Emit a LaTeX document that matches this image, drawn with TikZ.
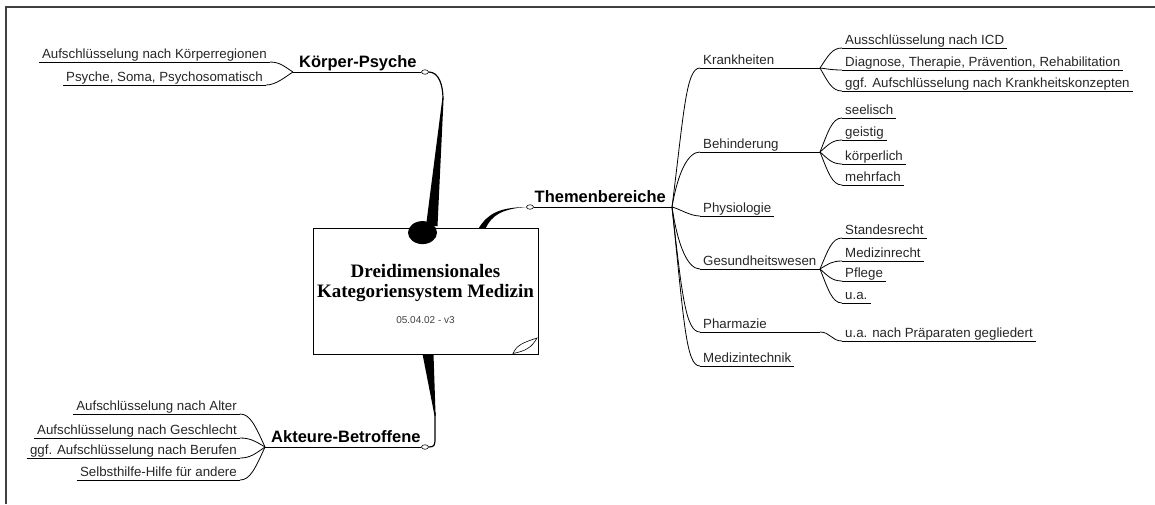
\documentclass[tikz,border=0pt]{standalone}
\usepackage{fontspec}
\setmainfont{Liberation Sans}
\newfontfamily\titlefont{Liberation Serif}
\usetikzlibrary{shapes.geometric}

\tikzset{
  branch/.style={line width=0.8pt},
  topic/.style={font=\fontsize{16.5}{18}\selectfont\bfseries, inner xsep=6pt, inner ysep=0pt, text depth=4pt},
  leaf/.style={font=\fontsize{13.3}{15}\selectfont, text=black!85, inner xsep=3pt, inner ysep=0pt, text depth=3.5pt,
    append after command={(\tikzlastnode.south west) edge[branch] (\tikzlastnode.south east)}},
  knob/.style={ellipse, draw, fill=white, inner sep=0pt, minimum width=7pt, minimum height=4.5pt, line width=0.6pt},
}

\begin{document}
\begin{tikzpicture}[x=1pt,y=-1pt]
  \useasboundingbox (0,0) rectangle (1155,504);
  \draw[line width=2.5pt, black!75] (6,504) -- (6,7) -- (1155,7);

  % centre
  \node[draw, fill=white, line width=0.8pt, minimum width=225pt, minimum height=126pt, inner sep=0pt] (ctr) at (425.5,291) {};
  \node[anchor=base, font=\titlefont\bfseries\fontsize{19}{21}\selectfont] (tit1) at (425.5,277) {Dreidimensionales};
  \node[anchor=base, font=\titlefont\bfseries\fontsize{19}{21}\selectfont] (tit2) at (425.5,297) {Kategoriensystem Medizin};
  \node[anchor=base, font=\fontsize{10}{12}\selectfont, text=black!75] (dat) at (425.5,323) {05.04.02 - v3};
  \draw[line width=0.6pt, fill=white] (513,353.5) .. controls (517,345) and (522,343) .. (537,338)
    .. controls (532,347) and (526,351) .. (513,353.5) -- cycle;

  % main topics
  \node[topic, anchor=south west] (kp) at (293,72) {Körper-Psyche};
  \node[knob] (kpk) at (425,72) {};
  \draw[branch] (kp.south west) -- (kpk.west);
  \node[topic, anchor=south east] (tb) at (672,207) {Themenbereiche};
  \node[knob] (tbk) at (530,207) {};
  \draw[branch] (tbk.east) -- (tb.south east);
  \node[topic, anchor=south west] (ab) at (265,447) {Akteure-Betroffene};
  \node[knob] (abk) at (425,447) {};
  \draw[branch] (ab.south west) -- (abk.west);

  % thick connectors to the centre
  \draw[line width=1.2pt] (kpk.east) .. controls +(10,0) and +(0,-14) .. (443,99);
  \fill (443.6,98) -- (437.5,226) -- (426,226) -- (442.4,98) -- cycle;
  \fill ([shift={(-3pt,-5pt)}]ctr.north) ellipse [x radius=14.5pt, y radius=11.5pt];
  \fill (478.5,228.5) .. controls (488,213) and (500,207.5) .. (tbk.west)
    .. controls (502,209) and (492,215) .. (485.5,228.5) -- cycle;
  \fill (422.5,354) -- (433.5,354) -- (435.6,416) -- (434.6,416) -- cycle;
  \draw[line width=1.2pt] (435,412) -- (435,437) .. controls +(0,8) and +(6,0) .. (abk.east);

  % Koerper-Psyche
  \node[leaf, anchor=south east] (kr) at (270,62) {Aufschlüsselung nach Körperregionen};
  \node[leaf, anchor=south east] (ps) at (266,85) {Psyche, Soma, Psychosomatisch};
  \draw[branch] (kr.south east) .. controls +(10,0) and +(-8,-5) .. (kp.south west);
  \draw[branch] (ps.south east) .. controls +(10,0) and +(-8,5) .. (kp.south west);

  % Akteure-Betroffene
  \node[leaf, anchor=south east] (alt) at (240,414) {Aufschlüsselung nach Alter};
  \node[leaf, anchor=south east] (gsc) at (240,438) {Aufschlüsselung nach Geschlecht};
  \node[leaf, anchor=south east] (ber) at (240,458) {ggf. Aufschlüsselung nach Berufen};
  \node[leaf, anchor=south east] (sel) at (240,480) {Selbsthilfe-Hilfe für andere};
  \draw[branch] (alt.south east) .. controls +(10,0) and +(-10,-22) .. (ab.south west);
  \draw[branch] (gsc.south east) .. controls +(10,0) and +(-10,-6) .. (ab.south west);
  \draw[branch] (ber.south east) .. controls +(10,0) and +(-10,7) .. (ab.south west);
  \draw[branch] (sel.south east) .. controls +(10,0) and +(-10,22) .. (ab.south west);

  % Themenbereiche
  \node[leaf, anchor=south west] (kra) at (700,68) {Krankheiten};
  \node[leaf, anchor=south west] (beh) at (700,152) {Behinderung};
  \node[leaf, anchor=south west] (phy) at (700,216) {Physiologie};
  \node[leaf, anchor=south west] (ges) at (700,269) {Gesundheitswesen};
  \node[leaf, anchor=south west] (pha) at (700,332) {Pharmazie};
  \node[leaf, anchor=south west] (med) at (700,366) {Medizintechnik};
  \draw[branch] (tb.south east) .. controls +(12,-95) and +(-14,0) .. (kra.south west);
  \draw[branch] (tb.south east) .. controls +(6,-35) and +(-12,0) .. (beh.south west);
  \draw[branch] (tb.south east) .. controls +(8,2) and +(-10,0) .. (phy.south west);
  \draw[branch] (tb.south east) .. controls +(6,40) and +(-12,0) .. (ges.south west);
  \draw[branch] (tb.south east) .. controls +(10,90) and +(-14,0) .. (pha.south west);
  \draw[branch] (tb.south east) .. controls +(12,115) and +(-14,0) .. (med.south west);
  \coordinate (krah) at (820,68);
  \coordinate (behh) at (820,152);
  \coordinate (gesh) at (820,269);
  \coordinate (phah) at (820,332);
  \draw[branch] (kra.south east) -- (krah);
  \draw[branch] (beh.south east) -- (behh);
  \draw[branch] (ges.south east) -- (gesh);
  \draw[branch] (pha.south east) -- (phah);

  % Krankheiten
  \node[leaf, anchor=south west] (icd) at (842,48) {Ausschlüsselung nach ICD};
  \node[leaf, anchor=south west] (dia) at (842,70) {Diagnose, Therapie, Prävention, Rehabilitation};
  \node[leaf, anchor=south west] (kon) at (842,91) {ggf. Aufschlüsselung nach Krankheitskonzepten};
  \draw[branch] (krah) .. controls +(8,-12) and +(-10,0) .. (icd.south west);
  \draw[branch] (krah) .. controls +(8,1) and +(-10,0) .. (dia.south west);
  \draw[branch] (krah) .. controls +(8,14) and +(-10,0) .. (kon.south west);

  % Behinderung
  \node[leaf, anchor=south west] (see) at (842,118) {seelisch};
  \node[leaf, anchor=south west] (gei) at (842,140) {geistig};
  \node[leaf, anchor=south west] (koe) at (842,164) {körperlich};
  \node[leaf, anchor=south west] (meh) at (842,185) {mehrfach};
  \draw[branch] (behh) .. controls +(8,-20) and +(-10,0) .. (see.south west);
  \draw[branch] (behh) .. controls +(8,-7) and +(-10,0) .. (gei.south west);
  \draw[branch] (behh) .. controls +(8,7) and +(-10,0) .. (koe.south west);
  \draw[branch] (behh) .. controls +(8,20) and +(-10,0) .. (meh.south west);

  % Gesundheitswesen
  \node[leaf, anchor=south west] (sta) at (842,238) {Standesrecht};
  \node[leaf, anchor=south west] (mre) at (842,261) {Medizinrecht};
  \node[leaf, anchor=south west] (pfl) at (842,281) {Pflege};
  \node[leaf, anchor=south west] (uan) at (842,303) {u.a.};
  \draw[branch] (gesh) .. controls +(8,-19) and +(-10,0) .. (sta.south west);
  \draw[branch] (gesh) .. controls +(8,-5) and +(-10,0) .. (mre.south west);
  \draw[branch] (gesh) .. controls +(8,7) and +(-10,0) .. (pfl.south west);
  \draw[branch] (gesh) .. controls +(8,20) and +(-10,0) .. (uan.south west);

  % Pharmazie
  \node[leaf, anchor=south west] (pra) at (842,341) {u.a. nach Präparaten gegliedert};
  \draw[branch] (phah) .. controls +(10,0) and +(-10,0) .. (pra.south west);
\end{tikzpicture}
\end{document}
